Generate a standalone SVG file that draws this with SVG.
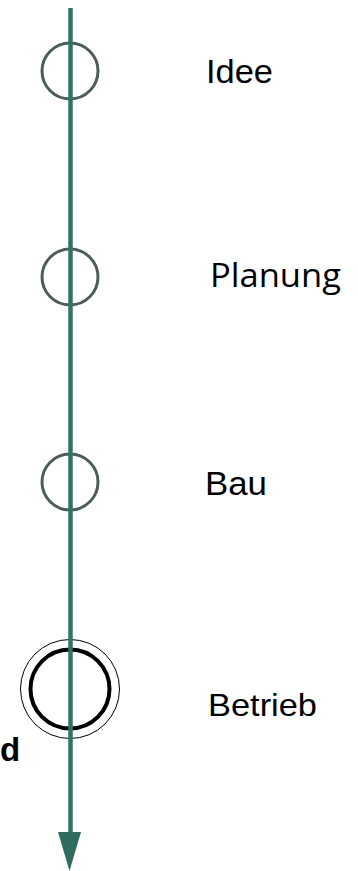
<svg xmlns="http://www.w3.org/2000/svg" width="358" height="871" viewBox="0 0 358 871">
<style>
.stage{fill:none;stroke:#4d5c5a;stroke-width:3}
.lbl{font-family:"Liberation Sans",Arial,sans-serif;font-size:34px;fill:#000}
</style>
<rect width="358" height="871" fill="#fff"/>
<g id="node-idee">
<circle class="stage" cx="70" cy="71" r="28"/>
<text class="lbl" x="206" y="82.5" textLength="67" lengthAdjust="spacingAndGlyphs">Idee</text>
</g>
<g id="node-planung">
<circle class="stage" cx="70" cy="277" r="28"/>
<text class="lbl" x="210" y="287" style="font-family:'Open Sans','Noto Sans',sans-serif;font-size:33px" textLength="131" lengthAdjust="spacingAndGlyphs">Planung</text>
</g>
<g id="node-bau">
<circle class="stage" cx="70" cy="482" r="28"/>
<text class="lbl" x="205" y="495" textLength="62" lengthAdjust="spacingAndGlyphs">Bau</text>
</g>
<g id="node-betrieb">
<circle cx="70" cy="689" r="49.5" fill="none" stroke="#000" stroke-width="1"/>
<circle cx="70" cy="689" r="39.5" fill="none" stroke="#000" stroke-width="4"/>
<text class="lbl" x="208" y="716" style="font-size:32px" textLength="109" lengthAdjust="spacingAndGlyphs">Betrieb</text>
</g>
<g id="node-d">
<text x="0" y="761" style="font-family:'Liberation Sans',Arial,sans-serif;font-size:33px;font-weight:bold;fill:#000">d</text>
</g>
<g id="connectors">
<line x1="70.5" y1="8" x2="70.5" y2="836" stroke="#2f7565" stroke-width="4.5"/>
<polygon points="58,832 81,832 69.5,871" fill="#2f6b5f"/>
</g>
</svg>
